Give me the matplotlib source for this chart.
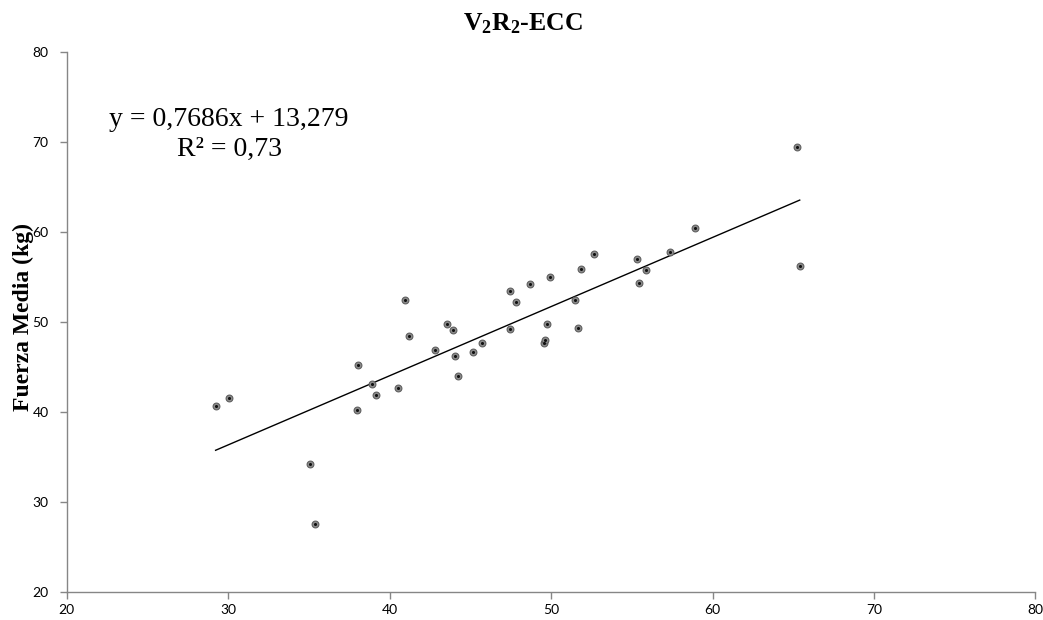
import numpy as np
import matplotlib.pyplot as plt

# Datos: fuerza media excéntrica (x) frente a fuerza media (y), en kg
x_vals = [29.23, 30.04, 35.06, 35.39, 38.05, 37.99, 38.90, 39.15, 40.55,
          40.94, 41.21, 42.84, 43.58, 43.91, 44.06, 44.24, 45.15, 45.71,
          47.46, 47.83, 47.44, 48.70, 49.94, 49.55, 49.61, 49.75, 51.47,
          51.65, 51.88, 52.68, 55.34, 55.45, 55.90, 57.39, 58.93, 65.40,
          65.23]
y_vals = [40.67, 41.52, 34.26, 27.56, 45.26, 40.22, 43.11, 41.85, 42.63,
          52.48, 48.48, 46.89, 49.78, 49.15, 46.19, 43.97, 46.63, 47.70,
          53.48, 52.22, 49.22, 54.19, 54.97, 47.70, 48.03, 49.74, 52.48,
          49.33, 55.89, 57.52, 57.00, 54.37, 55.74, 57.74, 60.48, 56.22,
          69.44]

slope = 0.7686
intercept = 13.279
r2 = 0.73

x_ticks = [20, 30, 40, 50, 60, 70, 80]
y_ticks = [20, 30, 40, 50, 60, 70, 80]

plt.rcParams['mathtext.fontset'] = 'custom'
plt.rcParams['mathtext.rm'] = 'Liberation Serif:bold'
plt.rcParams['mathtext.bf'] = 'Liberation Serif:bold'

fig = plt.figure(figsize=(10.43, 6.2), dpi=100)
ax = fig.add_axes([0.0638, 0.0452, 0.9290, 0.8709])

# puntos: círculo gris con centro oscuro
ax.scatter(x_vals, y_vals, s=24, facecolor='#8c8c8c', edgecolor='#606060',
           linewidth=0.8, zorder=3)
ax.scatter(x_vals, y_vals, s=1.5, color='#111111', zorder=4)

# línea de tendencia
xl = np.array([min(x_vals), max(x_vals)])
ax.plot(xl, slope * xl + intercept, color='black', lw=1.0, zorder=2)

ax.set_xlim(20, 80)
ax.set_ylim(20, 80)
ax.set_xticks(x_ticks)
ax.set_yticks(y_ticks)

for side in ['top', 'right']:
    ax.spines[side].set_visible(False)
for side in ['left', 'bottom']:
    ax.spines[side].set_color('#868686')
    ax.spines[side].set_linewidth(1.0)

ax.tick_params(axis='both', direction='out', length=5, width=1.0,
               color='#868686', labelsize=10, labelcolor='black')
ax.tick_params(axis='x', pad=4)
ax.tick_params(axis='y', pad=8)
for lab in ax.get_xticklabels() + ax.get_yticklabels():
    lab.set_family('Lato')

fig.text(0.5015, 0.9516, r'$\mathbf{V_2R_2}$-ECC', fontsize=18.5,
         fontweight='bold', family='Liberation Serif',
         ha='center', va='baseline')
ax.set_ylabel('Fuerza Media (kg)', fontsize=17, fontweight='bold',
              family='Liberation Serif')
ax.yaxis.set_label_coords(-0.0335, 0.509)

ax.text(0.1677, 0.848,
        f"y = {slope:.4f}x + {intercept:.3f}".replace('.', ',') + "\n"
        + f"R² = {r2:.2f}".replace('.', ','),
        transform=ax.transAxes, ha='center', va='center',
        multialignment='center', fontsize=20, family='Liberation Serif',
        linespacing=1.25)

fig.savefig('out.png', dpi=100)
